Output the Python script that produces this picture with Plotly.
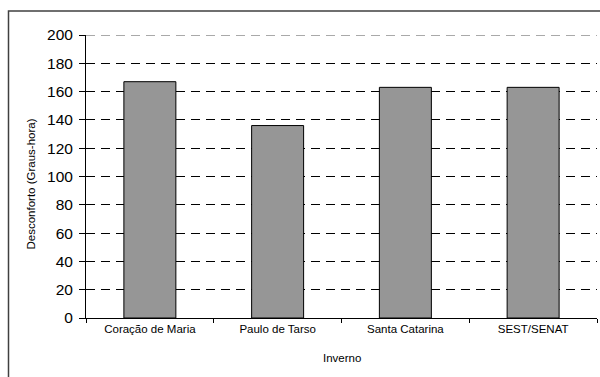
import plotly.graph_objects as go

# Winter discomfort (degree-hours) per building
categories = ["Coração de Maria", "Paulo de Tarso", "Santa Catarina", "SEST/SENAT"]
desconforto = [167, 136, 163, 163]
y_ticks = [0, 20, 40, 60, 80, 100, 120, 140, 160, 180, 200]

W, H = 600, 377
L, R, T, B = 86, 3, 35, 59
pw, ph = W - L - R, H - T - B

def px_to_paper_x(px):
    return (px - L) / pw

def px_to_paper_y(py):
    return (H - B - py) / ph

fig = go.Figure(
    go.Bar(
        x=categories,
        y=desconforto,
        marker=dict(color="#969696", line=dict(color="#000000", width=1)),
        hoverinfo="x+y",
    )
)

font = "Liberation Sans, Arial, sans-serif"

fig.update_layout(
    width=W,
    height=H,
    margin=dict(l=L, r=R, t=T, b=B),
    paper_bgcolor="white",
    plot_bgcolor="white",
    bargap=0.593,
    showlegend=False,
    font=dict(family=font, color="#000000"),
)

fig.update_xaxes(
    showline=True,
    linecolor="#000000",
    linewidth=1,
    ticks="outside",
    tickson="boundaries",
    ticklen=4,
    tickcolor="#000000",
    tickfont=dict(size=11.5, family=font, color="#000000"),
    showgrid=False,
)

fig.update_yaxes(
    range=[y_ticks[0], y_ticks[-1]],
    tickvals=y_ticks,
    showline=True,
    linecolor="#000000",
    linewidth=1,
    ticks="outside",
    ticklen=6,
    tickcolor="#000000",
    ticklabelstandoff=3,
    tickfont=dict(size=15.5, family=font, color="#000000"),
    showgrid=True,
    gridcolor="#000000",
    gridwidth=1,
    griddash="9px,6px",
    zeroline=False,
)

# Dashed gridline along the top of the value range
fig.add_shape(
    type="line",
    xref="paper", yref="y",
    x0=0, x1=1, y0=y_ticks[-1], y1=y_ticks[-1],
    line=dict(color="#555555", width=1, dash="9px,6px"),
    layer="below",
)

# Axis titles
fig.add_annotation(
    text="Desconforto (Graus-hora)",
    textangle=-90,
    x=px_to_paper_x(30.5), y=px_to_paper_y(184),
    xref="paper", yref="paper",
    xanchor="center", yanchor="middle",
    showarrow=False,
    font=dict(size=11.5, family=font, color="#000000"),
)
fig.add_annotation(
    text="Inverno",
    x=px_to_paper_x(341.5), y=px_to_paper_y(358),
    xref="paper", yref="paper",
    xanchor="center", yanchor="middle",
    showarrow=False,
    font=dict(size=11.5, family=font, color="#000000"),
)

# Chart-area frame (top and left edges)
fig.add_shape(
    type="path",
    xref="paper", yref="paper",
    path="M {x0},{y0} L {x0},{y1} L {x2},{y1}".format(
        x0=px_to_paper_x(8.5), y0=px_to_paper_y(H + 5),
        y1=px_to_paper_y(11), x2=px_to_paper_x(W + 5),
    ),
    line=dict(color="#404040", width=1.5),
    layer="above",
)

fig.write_html("out.html")
